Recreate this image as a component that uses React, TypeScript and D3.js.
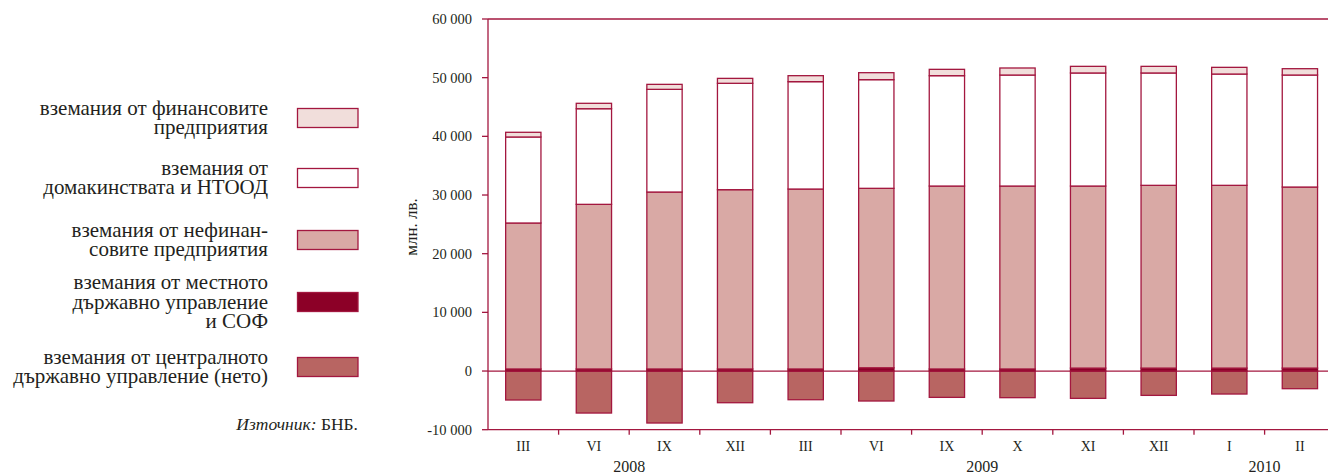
import React from "react";
import * as d3 from "d3";

const categories = ["III", "VI", "IX", "XII", "III", "VI", "IX", "X", "XI", "XII", "I", "II"];
const years = [
  { label: "2008", from: 0, to: 3 },
  { label: "2009", from: 4, to: 9 },
  { label: "2010", from: 10, to: 11 },
];
// млн. лв.
const localGov = [350, 350, 350, 350, 350, 550, 350, 350, 500, 500, 500, 500];
const nonFinancial = [24880, 28060, 30160, 30560, 30670, 30590, 31180, 31180, 31030, 31150, 31150, 30860];
const households = [14660, 16300, 17500, 18130, 18300, 18520, 18810, 18920, 19270, 19150, 18970, 19090];
const financial = [800, 920, 850, 840, 1020, 1190, 1080, 1200, 1130, 1130, 1140, 1080];
const centralGov = [-4940, -7160, -8860, -5400, -4890, -5110, -4490, -4540, -4660, -4150, -3920, -3010];
const yTicks = [-10000, 0, 10000, 20000, 30000, 40000, 50000, 60000];

const legendItems = [
  { lines: ["вземания от финансовите", "предприятия"], fill: "#f1dedb" },
  { lines: ["вземания от", "домакинствата и НТООД"], fill: "#ffffff" },
  { lines: ["вземания от нефинан-", "совите предприятия"], fill: "#d9a9a5" },
  { lines: ["вземания от местното", "държавно управление", "и СОФ"], fill: "#8c0027" },
  { lines: ["вземания от централното", "държавно управление (нето)"], fill: "#b86562" },
];
const legendCenters = [118, 178, 240, 302, 367];

const W = 1328;
const H = 474;
const AX = "#a3173f";
const FONT = '"Liberation Serif", "Times New Roman", serif';
const TXT = "#231f20";

export default function App() {
  const left = 488;
  const step = 70.6;
  const x = d3
    .scaleBand<number>()
    .domain(categories.map((_, i) => i))
    .range([left, left + step * categories.length])
    .paddingInner(0.5)
    .paddingOuter(0.25);
  const y = d3.scaleLinear().domain([-10000, 60000]).range([429.7, 19]);
  const fmt = (v: number) => (v < 0 ? "-" : "") + d3.format(",")(Math.abs(v)).replace(/,/g, " ");

  const series = [
    { vals: localGov, fill: "#8c0027" },
    { vals: nonFinancial, fill: "#d9a9a5" },
    { vals: households, fill: "#ffffff" },
    { vals: financial, fill: "#f1dedb" },
  ];

  const bars: JSX.Element[] = [];
  categories.forEach((_, i) => {
    let base = 0;
    const bx = x(i)!;
    const bw = x.bandwidth();
    bars.push(
      <rect key={`c${i}`} x={bx} y={y(0)} width={bw} height={y(centralGov[i]) - y(0)}
        fill="#b86562" stroke={AX} strokeWidth={1.3} />
    );
    series.forEach((s, si) => {
      const v0 = base;
      const v1 = base + s.vals[i];
      base = v1;
      bars.push(
        <rect key={`s${si}-${i}`} x={bx} y={y(v1)} width={bw} height={y(v0) - y(v1)}
          fill={s.fill} stroke={si === 0 ? "#8c0027" : AX} strokeWidth={1.3} />
      );
    });
  });

  const plotRight = left + step * categories.length;
  const ts = { fontFamily: FONT } as React.CSSProperties;

  return (
    <svg width={W} height={H} style={{ position: "absolute", left: 0, top: 0, fontFamily: FONT }}>
      {legendItems.map((it, k) => {
        const cy = legendCenters[k];
        const lh = 19.5;
        const n = it.lines.length;
        return (
          <g key={k}>
            {it.lines.map((ln, j) => (
              <text key={j} x={268} y={cy + (j - (n - 1) / 2) * lh + 6.5} textAnchor="end" fontSize={21} fill={TXT} style={ts}>
                {ln}
              </text>
            ))}
            <rect x={297.5} y={cy - 9.5} width={60.5} height={19} fill={it.fill} stroke={AX} strokeWidth={1.3} />
          </g>
        );
      })}
      <text x={358} y={430} textAnchor="end" fontSize={17.5} fill={TXT} style={ts}>
        <tspan fontStyle="italic">Източник:</tspan> БНБ.
      </text>

      <text transform={`translate(417,227) rotate(-90)`} textAnchor="middle" fontSize={17} fill={TXT} style={ts}>
        млн. лв.
      </text>

      {bars}

      <line x1={left} x2={left} y1={y(60000)} y2={y(-10000)} stroke={AX} strokeWidth={1.3} />
      <line x1={left} x2={plotRight} y1={y(60000)} y2={y(60000)} stroke={AX} strokeWidth={1.3} />
      <line x1={left} x2={plotRight} y1={y(-10000)} y2={y(-10000)} stroke={AX} strokeWidth={1.3} />
      <line x1={left} x2={plotRight} y1={y(0)} y2={y(0)} stroke={AX} strokeWidth={1.3} />
      {yTicks.map((t) => (
        <g key={t}>
          <line x1={left - 6} x2={left} y1={y(t)} y2={y(t)} stroke={AX} strokeWidth={1.3} />
          <text x={472} y={y(t) + 5} textAnchor="end" fontSize={14.5} fill={TXT} style={ts}>
            {fmt(t)}
          </text>
        </g>
      ))}
      {categories.map((c, i) => (
        <g key={i}>
          <line x1={left + step * (i + 1)} x2={left + step * (i + 1)} y1={y(-10000)} y2={y(-10000) + 5}
            stroke={AX} strokeWidth={1.3} />
          <text x={x(i)! + x.bandwidth() / 2} y={451} textAnchor="middle" fontSize={14} fill={TXT} style={ts}>
            {c}
          </text>
        </g>
      ))}
      {years.map((yr) => (
        <text key={yr.label} x={left + (step * (yr.from + yr.to + 1)) / 2} y={472} textAnchor="middle" fontSize={16} fill={TXT} style={ts}>
          {yr.label}
        </text>
      ))}
    </svg>
  );
}
